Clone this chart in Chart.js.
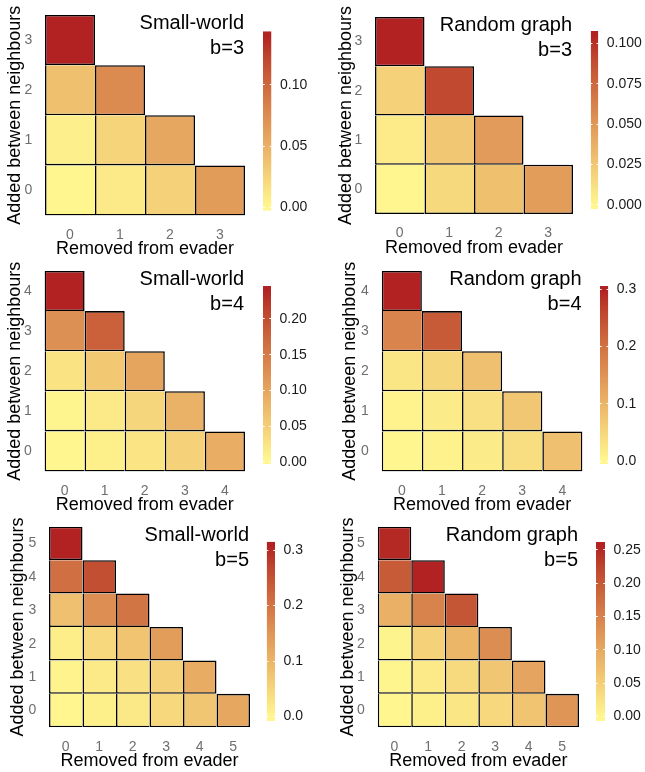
<!DOCTYPE html>
<html><head><meta charset="utf-8">
<script src="https://cdn.jsdelivr.net/npm/chart.js@4.4.0/dist/chart.umd.min.js"></script>
<style>
html,body{margin:0;padding:0;background:#fff;overflow:hidden;width:645px;height:772px;position:relative;}
canvas{position:absolute;}
</style></head><body>
<script>
// ---------------- DATA ----------------
const cats3 = ['0','1','2','3'];
const cats4 = ['0','1','2','3','4'];
const cats5 = ['0','1','2','3','4','5'];
const xTitle = 'Removed from evader';
const yTitle = 'Added between neighbours';

// rows: index = "Added between neighbours", entries = "Removed from evader" 0..
const smallWorldB3 = [
  [0.001, 0.010, 0.026, 0.064],
  [0.005, 0.025, 0.056],
  [0.038, 0.077],
  [0.140]
];
const randomGraphB3 = [
  [0.000, 0.016, 0.028, 0.047],
  [0.006, 0.025, 0.048],
  [0.019, 0.090],
  [0.105]
];
const smallWorldB4 = [
  [0.003, 0.010, 0.024, 0.046, 0.089],
  [0.004, 0.017, 0.041, 0.084],
  [0.026, 0.058, 0.100],
  [0.125, 0.180],
  [0.240]
];
const randomGraphB4 = [
  [0.003, 0.009, 0.018, 0.039, 0.083],
  [0.008, 0.018, 0.036, 0.072],
  [0.027, 0.051, 0.083],
  [0.173, 0.232],
  [0.298]
];
const smallWorldB5 = [
  [0.000, 0.009, 0.021, 0.046, 0.074, 0.123],
  [0.005, 0.018, 0.034, 0.055, 0.114],
  [0.012, 0.046, 0.077, 0.138],
  [0.083, 0.160, 0.200],
  [0.209, 0.255],
  [0.307]
];
const randomGraphB5 = [
  [0.000, 0.008, 0.020, 0.038, 0.064, 0.125],
  [0.001, 0.015, 0.036, 0.061, 0.105],
  [0.003, 0.046, 0.082, 0.135],
  [0.089, 0.148, 0.204],
  [0.199, 0.255],
  [0.250]
];

const cbTicksSW3 = [0, 0.05, 0.10];            const cbLabelsSW3 = ['0.00','0.05','0.10'];
const cbTicksRG3 = [0, 0.025, 0.05, 0.075, 0.10]; const cbLabelsRG3 = ['0.000','0.025','0.050','0.075','0.100'];
const cbTicksSW4 = [0, 0.05, 0.10, 0.15, 0.20]; const cbLabelsSW4 = ['0.00','0.05','0.10','0.15','0.20'];
const cbTicksRG4 = [0, 0.1, 0.2, 0.3];          const cbLabelsRG4 = ['0.0','0.1','0.2','0.3'];
const cbTicksSW5 = [0, 0.1, 0.2, 0.3];          const cbLabelsSW5 = ['0.0','0.1','0.2','0.3'];
const cbTicksRG5 = [0, 0.05, 0.10, 0.15, 0.20, 0.25]; const cbLabelsRG5 = ['0.00','0.05','0.10','0.15','0.20','0.25'];

const panelNames = ['Small-world', 'Random graph'];
const budgetLabels = ['b=3', 'b=4', 'b=5'];

// ---------------- STYLE / LAYOUT ----------------
const FONT = '"Liberation Sans", Arial, Helvetica, sans-serif';
const LOW = '#FFF68F', HIGH = '#B22222';
const TICK_GREY = '#6e6e6e';
const CELL_LINE = 1.55;

const panels = [
  {cats: cats3, rows: smallWorldB3,  name: panelNames[0], b: budgetLabels[0], cbT: cbTicksSW3, cbL: cbLabelsSW3,
   plot: [45, 15, 245, 215.5],      yTitleX: 15,  cb: [263, 31.3, 271.5, 210.7]},
  {cats: cats3, rows: randomGraphB3, name: panelNames[1], b: budgetLabels[0], cbT: cbTicksRG3, cbL: cbLabelsRG3,
   plot: [375, 17, 573, 214],       yTitleX: 346, cb: [590.7, 31, 598.3, 209.3]},
  {cats: cats4, rows: smallWorldB4,  name: panelNames[0], b: budgetLabels[1], cbT: cbTicksSW4, cbL: cbLabelsSW4,
   plot: [44.5, 271, 245, 471.5],   yTitleX: 15,  cb: [263, 286, 271, 464]},
  {cats: cats4, rows: randomGraphB4, name: panelNames[1], b: budgetLabels[1], cbT: cbTicksRG4, cbL: cbLabelsRG4,
   plot: [381.7, 271, 582.5, 471.5], yTitleX: 350.5, cb: [600, 286, 608.3, 464]},
  {cats: cats5, rows: smallWorldB5,  name: panelNames[0], b: budgetLabels[2], cbT: cbTicksSW5, cbL: cbLabelsSW5,
   plot: [49, 526.7, 250, 727.3],   yTitleX: 18.3, cb: [266.7, 541.7, 275, 721]},
  {cats: cats5, rows: randomGraphB5, name: panelNames[1], b: budgetLabels[2], cbT: cbTicksRG5, cbL: cbLabelsRG5,
   plot: [377.7, 526.7, 579, 727.3], yTitleX: 348.3, cb: [596, 542, 605, 721]}
];

// ---------------- COLOUR (CIELAB interpolation) ----------------
function toLin(c){c/=255;return c<=0.04045?c/12.92:Math.pow((c+0.055)/1.055,2.4);}
function fromLin(c){c=Math.max(0,Math.min(1,c));const v=c<=0.0031308?12.92*c:1.055*Math.pow(c,1/2.4)-0.055;return Math.max(0,Math.min(255,Math.round(v*255)));}
const WX=0.95047, WY=1, WZ=1.08883;
function hex2lab(hex){
  const r=toLin(parseInt(hex.slice(1,3),16)), g=toLin(parseInt(hex.slice(3,5),16)), b=toLin(parseInt(hex.slice(5,7),16));
  const X=(0.4124564*r+0.3575761*g+0.1804375*b)/WX, Y=(0.2126729*r+0.7151522*g+0.0721750*b)/WY, Z=(0.0193339*r+0.1191920*g+0.9503041*b)/WZ;
  const f=t=>t>216/24389?Math.cbrt(t):(24389/27*t+16)/116;
  const fx=f(X),fy=f(Y),fz=f(Z);
  return [116*fy-16,500*(fx-fy),200*(fy-fz)];
}
function lab2rgb(L,a,bb){
  const fy=(L+16)/116, fx=fy+a/500, fz=fy-bb/200;
  const fi=t=>{const t3=t*t*t;return t3>216/24389?t3:(116*t-16)/(24389/27);};
  const X=fi(fx)*WX, Y=fi(fy)*WY, Z=fi(fz)*WZ;
  const r=3.2404542*X-1.5371385*Y-0.4985314*Z, g=-0.9692660*X+1.8760108*Y+0.0415560*Z, b=0.0556434*X-0.2040259*Y+1.0572252*Z;
  return 'rgb('+fromLin(r)+','+fromLin(g)+','+fromLin(b)+')';
}
const LAB_LOW = hex2lab(LOW), LAB_HIGH = hex2lab(HIGH);
function colorAt(t){
  t=Math.max(0,Math.min(1,t));
  return lab2rgb(LAB_LOW[0]+(LAB_HIGH[0]-LAB_LOW[0])*t, LAB_LOW[1]+(LAB_HIGH[1]-LAB_LOW[1])*t, LAB_LOW[2]+(LAB_HIGH[2]-LAB_LOW[2])*t);
}

function addCanvas(l,t,w,h){
  const c=document.createElement('canvas');
  c.width=w;c.height=h;
  c.style.left=l+'px';c.style.top=t+'px';c.style.width=w+'px';c.style.height=h+'px';
  document.body.appendChild(c);
  return c;
}

const panelTitlePlugin = {
  id: 'panelTitle',
  afterDraw(chart, args, opts) {
    const {ctx, chartArea} = chart;
    ctx.save();
    ctx.font = '20px ' + FONT;
    ctx.fillStyle = '#000';
    ctx.textAlign = 'right';
    ctx.textBaseline = 'alphabetic';
    (opts.lines || []).forEach((t, k) => ctx.fillText(t, chartArea.right - 1, chartArea.top + 14.3 + 25 * k));
    ctx.restore();
  }
};

function makeHeatmap(p) {
  const cats = p.cats, rows = p.rows, n = cats.length;
  const flat = rows.flat();
  const vmin = Math.min(...flat), vmax = Math.max(...flat);
  const [pl, pt, pr, pb] = p.plot;
  const cL = Math.floor(p.yTitleX - 14);
  const cT = Math.floor(pt - 14);
  const W = Math.ceil(pr + 4) - cL;
  const H = Math.ceil(pb + 44.5) - cT;
  const padTop = pt - cT, padRight = cL + W - pr;
  const yW = pl - cL, xH = cT + H - pb;
  const yTitlePad = p.yTitleX - cL - 10.8;
  const xTitlePad = Math.max(0, xH - 34 - 10.8);

  const datasets = rows.map((row, r) => ({
    data: cats.map((c, i) => (i < row.length ? 1 : null)),
    backgroundColor: cats.map((c, i) => (i < row.length ? colorAt((row[i] - vmin) / (vmax - vmin)) : 'rgba(0,0,0,0)')),
    borderColor: '#000',
    borderWidth: (ctx) => {
      const diag = ctx.dataIndex === row.length - 1;
      return {left: CELL_LINE, bottom: CELL_LINE, top: diag ? CELL_LINE : 0, right: diag ? CELL_LINE : 0};
    },
    borderSkipped: false,
    inflateAmount: 0,
    barPercentage: 1,
    categoryPercentage: 1
  }));

  const canvas = addCanvas(cL, cT, W, H);
  new Chart(canvas, {
    type: 'bar',
    data: {labels: cats, datasets},
    options: {
      responsive: false, animation: false, events: [],
      layout: {padding: {top: padTop, right: padRight, left: 0, bottom: 0}},
      plugins: {legend: {display: false}, tooltip: {enabled: false}, panelTitle: {lines: [p.name, p.b]}},
      scales: {
        x: {
          type: 'category', stacked: true, offset: true,
          grid: {display: false, drawTicks: false}, border: {display: false},
          ticks: {color: TICK_GREY, font: {family: FONT, size: 14}, padding: 11, maxRotation: 0, autoSkip: false},
          title: {display: true, text: xTitle, color: '#000', font: {family: FONT, size: 18}, padding: {top: 0, bottom: xTitlePad}},
          afterFit: (s) => { s.height = xH; s.paddingLeft = 0; s.paddingRight = 0; }
        },
        y: {
          type: 'linear', stacked: true, min: 0, max: n,
          grid: {display: false, drawTicks: false}, border: {display: false},
          afterBuildTicks: (s) => { s.ticks = cats.map((c, i) => ({value: i + 0.5})); },
          ticks: {callback: (v, i) => cats[i], color: TICK_GREY, font: {family: FONT, size: 14}, padding: 12.8,
                  crossAlign: 'center', autoSkip: false},
          title: {display: true, text: yTitle, color: '#000', font: {family: FONT, size: 18}, padding: {top: yTitlePad, bottom: 0}},
          afterFit: (s) => { s.width = yW; s.paddingTop = 0; s.paddingBottom = 0; }
        }
      }
    },
    plugins: [panelTitlePlugin]
  });
}

function makeColorbar(p) {
  const flat = p.rows.flat();
  const vmin = Math.min(...flat), vmax = Math.max(...flat);
  const ext = (vmax - vmin) / 38;
  const lo = vmin - ext, hi = vmax + ext;
  const [x0, y0, x1, y1] = p.cb;
  const padV = 12;
  const cL = Math.floor(x0), cT = Math.floor(y0 - padV);
  const W = 75;
  const H = Math.ceil(y1 + padV) - cT;
  const padLeft = x0 - cL, padTop = y0 - cT, padBottom = cT + H - y1;
  const barW = x1 - x0;
  const axisW = W - padLeft - barW;
  const ticks = p.cbT, labels = p.cbL;

  const canvas = addCanvas(cL, cT, W, H);
  new Chart(canvas, {
    type: 'bar',
    data: {labels: [''], datasets: [{
      data: [[lo, hi]],
      backgroundColor: (ctx) => {
        const chart = ctx.chart;
        const ys = chart.scales && chart.scales.y;
        if (!chart.chartArea || !ys) return LOW;
        const pA = ys.getPixelForValue(vmin), pB = ys.getPixelForValue(vmax);
        const g = chart.ctx.createLinearGradient(0, pA, 0, pB);
        for (let k = 0; k <= 40; k++) g.addColorStop(k / 40, colorAt(k / 40));
        return g;
      },
      borderWidth: 0, inflateAmount: 0, barPercentage: 1, categoryPercentage: 1
    }]},
    options: {
      responsive: false, animation: false, events: [],
      layout: {padding: {top: padTop, bottom: padBottom, left: padLeft, right: 0}},
      plugins: {legend: {display: false}, tooltip: {enabled: false}},
      scales: {
        x: {display: false, offset: true},
        y: {
          position: 'right', min: lo, max: hi,
          afterBuildTicks: (s) => { s.ticks = ticks.map(v => ({value: v})); },
          ticks: {callback: (v, i) => labels[i], color: '#1a1a1a', font: {family: FONT, size: 14}, padding: 8.5, autoSkip: false},
          grid: {color: '#ffffff', lineWidth: 1, drawTicks: false, z: 1},
          border: {display: false, dash: [1.7, barW - 3.4]},
          afterFit: (s) => { s.width = axisW; s.paddingTop = 0; s.paddingBottom = 0; }
        }
      }
    }
  });
}

panels.forEach(p => { makeHeatmap(p); makeColorbar(p); });
</script>
</body></html>
